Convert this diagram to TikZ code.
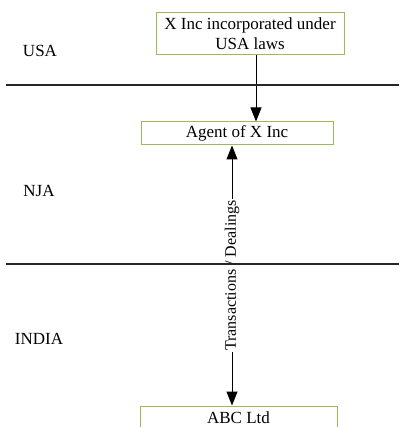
\documentclass[tikz,border=0pt]{standalone}
\usepackage{fontspec}
\setmainfont{Liberation Serif}
\usetikzlibrary{arrows.meta}
\definecolor{boxgreen}{RGB}{155,187,89}
\begin{document}
\begin{tikzpicture}[x=1pt,y=-1pt,
  font=\fontsize{17}{20}\selectfont,
  ent/.style={draw=boxgreen, line width=1pt, fill=white, inner sep=0pt, align=center},
  sep/.style={draw=black!85, line width=1.5pt},
  conn/.style={draw=black, line width=1pt},
  tip/.style={-{Triangle[width=11pt,length=14pt]}},
  region/.style={inner sep=0pt}]
\useasboundingbox (0,0) rectangle (399,427);
\clip (0,0) rectangle (399,427);
\node[region] (usa) at (40,51) {USA};
\node[region] (nja) at (39,191) {NJA};
\node[region] (india) at (39,339) {INDIA};
\node[ent, minimum width=188, minimum height=42] (xinc) at (250,34) {X Inc incorporated under\\USA laws};
\node[ent, minimum width=192, minimum height=23] (agent) at (237,133.5) {Agent of X Inc};
\node[ent, minimum width=197, minimum height=24] (abc) at (238.5,418) {ABC Ltd};
\coordinate (l1a) at (6,85);
\coordinate (l1b) at (399,85);
\coordinate (l2a) at (6,264);
\coordinate (l2b) at (399,264);
\draw[conn, tip] ([xshift=6]xinc.south) -- ([xshift=6]xinc.south |- agent.north);
\draw[conn, {Triangle[width=11pt,length=14pt]}-{Triangle[width=11pt,length=14pt]}] ([xshift=-5]agent.south) -- ([xshift=-5]agent.south |- abc.north)
  node[midway, rotate=90, fill=white, inner sep=1pt, font=\fontsize{16}{18}\selectfont] (lbl) {Transactions / Dealings};
\draw[sep] (l1a) -- (l1b);
\draw[sep] (l2a) -- (l2b);
\end{tikzpicture}
\end{document}
